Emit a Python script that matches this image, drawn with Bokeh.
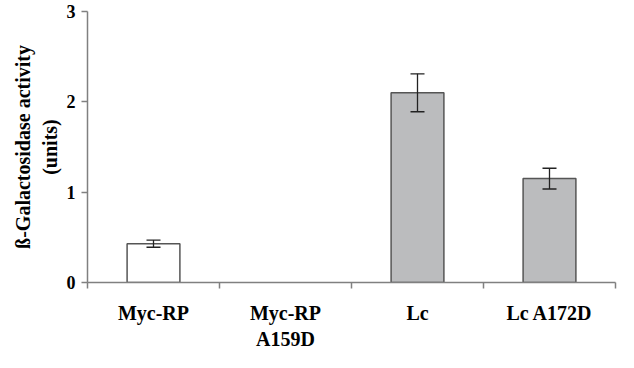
from bokeh.plotting import figure
from bokeh.models import ColumnDataSource, Range1d, FixedTicker, Whisker, TeeHead
from bokeh.embed import file_html
from bokeh.resources import INLINE

categories = ["Myc-RP", "Myc-RP\nA159D", "Lc", "Lc A172D"]
values = [0.43, 0.0, 2.10, 1.15]
errors = [0.04, 0.0, 0.21, 0.115]
fills = ["#ffffff", "#bbbcbe", "#bbbcbe", "#bbbcbe"]
y_ticks = [0, 1, 2, 3]

xs = [i + 0.5 for i in range(len(categories))]
has_bar = [v > 0 for v in values]

bar_src = ColumnDataSource(dict(
    x=[x for x, h in zip(xs, has_bar) if h],
    top=[v for v, h in zip(values, has_bar) if h],
    fill=[f for f, h in zip(fills, has_bar) if h],
))
err_src = ColumnDataSource(dict(
    x=[x for x, h in zip(xs, has_bar) if h],
    lower=[v - e for v, e, h in zip(values, errors, has_bar) if h],
    upper=[v + e for v, e, h in zip(values, errors, has_bar) if h],
))

p = figure(width=618, height=352, output_backend="svg", toolbar_location=None,
           x_range=Range1d(0, 4), y_range=Range1d(0, 3),
           min_border_left=87, min_border_right=3, min_border_top=11, min_border_bottom=65)
p.outline_line_color = None
p.grid.grid_line_color = None
p.background_fill_color = "white"

p.vbar(x="x", top="top", bottom=0, width=0.40, source=bar_src,
       fill_color="fill", line_color="#555555", line_width=1.5)

w = Whisker(base="x", lower="lower", upper="upper", source=err_src,
            line_color="#222222", line_width=1.3, level="overlay",
            upper_head=TeeHead(size=14, line_color="#222222", line_width=1.3),
            lower_head=TeeHead(size=14, line_color="#222222", line_width=1.3))
p.add_layout(w)

font = "Liberation Serif"

xa = p.xaxis[0]
xa.ticker = FixedTicker(ticks=xs, minor_ticks=[0, 1, 2, 3, 4])
xa.major_label_overrides = {x: c for x, c in zip(xs, categories)}
xa.major_tick_in = 0
xa.major_tick_out = 0
xa.minor_tick_in = 0
xa.minor_tick_out = 6
xa.minor_tick_line_color = "#808080"
xa.axis_line_color = "#808080"
xa.axis_line_width = 1.5
xa.minor_tick_line_width = 1.5
xa.major_label_text_font = font
xa.major_label_text_font_style = "bold"
xa.major_label_text_font_size = "20px"
xa.major_label_text_color = "black"
xa.major_label_standoff = 13

ya = p.yaxis[0]
ya.ticker = FixedTicker(ticks=y_ticks, minor_ticks=[])
ya.major_tick_in = 0
ya.major_tick_out = 6
ya.major_tick_line_color = "#808080"
ya.major_tick_line_width = 1.5
ya.axis_line_color = "#808080"
ya.axis_line_width = 1.5
ya.minor_tick_line_color = None
ya.major_label_text_font = font
ya.major_label_text_font_style = "bold"
ya.major_label_text_font_size = "18px"
ya.major_label_text_color = "black"
ya.major_label_standoff = 6
ya.axis_label = "ß-Galactosidase activity\n(units)"
ya.axis_label_text_font = font
ya.axis_label_text_font_style = "bold"
ya.axis_label_text_font_size = "20px"
ya.axis_label_text_color = "black"
ya.axis_label_standoff = 3

open("out.html", "w").write(file_html(p, INLINE))
